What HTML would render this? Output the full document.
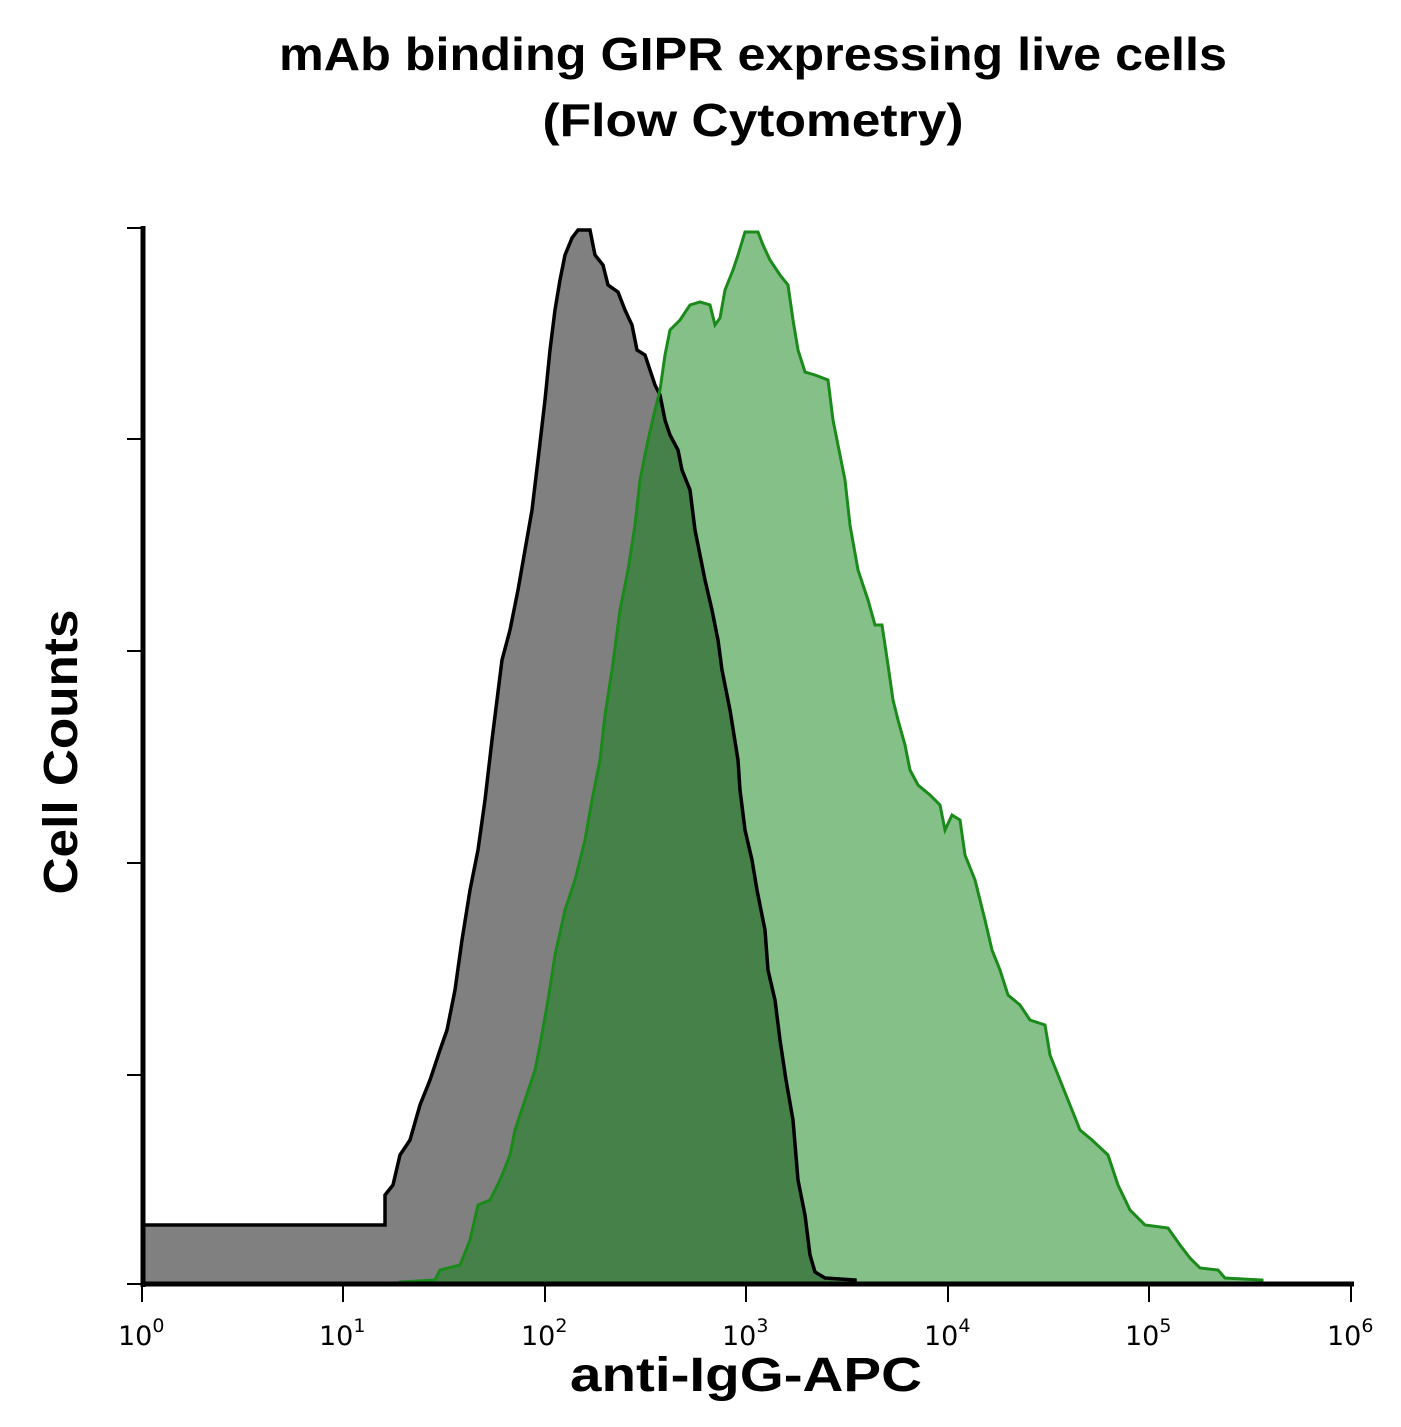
<!DOCTYPE html>
<html><head><style>body{margin:0;background:#fff}</style></head><body>
<svg width="1401" height="1422" xmlns="http://www.w3.org/2000/svg">
<g font-family="Liberation Sans, sans-serif" font-weight="bold" text-anchor="middle" fill="#000">
<text x="753" y="70" font-size="46" textLength="948" lengthAdjust="spacingAndGlyphs">mAb binding GIPR expressing live cells</text>
<text x="753" y="136" font-size="46" textLength="421" lengthAdjust="spacingAndGlyphs">(Flow Cytometry)</text>
<text x="746" y="1391" font-size="48" textLength="352" lengthAdjust="spacingAndGlyphs">anti-IgG-APC</text>
<text transform="translate(77,752) rotate(-90)" font-size="48" textLength="285" lengthAdjust="spacingAndGlyphs">Cell Counts</text>
</g>
<polygon fill="#808080" points="143,1284 143,1225 385,1225 385,1195 393,1185 400,1155 410,1140 420,1105 430,1080 440,1050 447,1030 455,990 462,940 470,890 478,850 485,800 492,740 497,700 502,660 510,630 518,590 525,550 532,510 538,460 545,400 550,350 555,310 560,280 565,255 572,238 578,230 590,230 595,255 603,265 608,285 618,292 625,310 632,325 637,350 645,355 655,385 660,395 665,420 670,435 678,450 682,470 690,490 695,530 705,580 712,610 718,640 722,670 730,710 738,760 740,790 745,830 752,860 757,890 765,930 768,970 775,1000 780,1040 786,1080 793,1120 798,1180 805,1215 810,1255 815,1272 825,1278 855,1280 855,1284"/>
<polygon fill="rgba(9,129,15,0.5)" points="400,1284 400,1282 435,1280 440,1270 460,1265 470,1240 478,1205 490,1200 500,1180 510,1155 515,1130 525,1100 535,1070 540,1045 548,1000 555,955 565,910 575,880 585,840 592,800 600,760 605,715 612,670 620,610 628,570 635,525 640,480 648,440 655,410 660,390 665,355 670,330 680,320 690,305 700,302 710,305 715,325 720,318 725,290 733,270 738,255 745,232 758,232 763,245 770,260 780,275 788,285 793,320 798,350 805,372 815,375 828,380 833,420 838,445 845,480 850,525 858,570 868,600 875,625 882,625 888,665 893,700 898,720 905,745 910,770 918,785 930,795 940,805 945,830 952,815 960,820 965,855 975,880 985,920 992,950 1000,970 1008,995 1020,1005 1030,1020 1045,1025 1050,1055 1060,1080 1072,1110 1080,1130 1092,1140 1108,1155 1118,1185 1130,1210 1145,1225 1168,1228 1180,1245 1190,1258 1200,1268 1218,1270 1225,1278 1262,1280 1262,1284"/>
<polygon fill="none" stroke="#000" stroke-width="3.5" points="143,1284 143,1225 385,1225 385,1195 393,1185 400,1155 410,1140 420,1105 430,1080 440,1050 447,1030 455,990 462,940 470,890 478,850 485,800 492,740 497,700 502,660 510,630 518,590 525,550 532,510 538,460 545,400 550,350 555,310 560,280 565,255 572,238 578,230 590,230 595,255 603,265 608,285 618,292 625,310 632,325 637,350 645,355 655,385 660,395 665,420 670,435 678,450 682,470 690,490 695,530 705,580 712,610 718,640 722,670 730,710 738,760 740,790 745,830 752,860 757,890 765,930 768,970 775,1000 780,1040 786,1080 793,1120 798,1180 805,1215 810,1255 815,1272 825,1278 855,1280 855,1284"/>
<polygon fill="none" stroke="#1a8a1a" stroke-width="3" points="400,1284 400,1282 435,1280 440,1270 460,1265 470,1240 478,1205 490,1200 500,1180 510,1155 515,1130 525,1100 535,1070 540,1045 548,1000 555,955 565,910 575,880 585,840 592,800 600,760 605,715 612,670 620,610 628,570 635,525 640,480 648,440 655,410 660,390 665,355 670,330 680,320 690,305 700,302 710,305 715,325 720,318 725,290 733,270 738,255 745,232 758,232 763,245 770,260 780,275 788,285 793,320 798,350 805,372 815,375 828,380 833,420 838,445 845,480 850,525 858,570 868,600 875,625 882,625 888,665 893,700 898,720 905,745 910,770 918,785 930,795 940,805 945,830 952,815 960,820 965,855 975,880 985,920 992,950 1000,970 1008,995 1020,1005 1030,1020 1045,1025 1050,1055 1060,1080 1072,1110 1080,1130 1092,1140 1108,1155 1118,1185 1130,1210 1145,1225 1168,1228 1180,1245 1190,1258 1200,1268 1218,1270 1225,1278 1262,1280 1262,1284"/>
<g stroke="#000">
<line x1="143" y1="226" x2="143" y2="1287" stroke-width="5"/>
<line x1="141" y1="1284" x2="1354" y2="1284" stroke-width="5"/>
<g stroke-width="2">
<line x1="127" y1="228" x2="143" y2="228"/><line x1="127" y1="439" x2="143" y2="439"/><line x1="127" y1="651" x2="143" y2="651"/><line x1="127" y1="863" x2="143" y2="863"/><line x1="127" y1="1075" x2="143" y2="1075"/><line x1="127" y1="1284" x2="143" y2="1284"/>
<line x1="142" y1="1284" x2="142" y2="1302"/><line x1="343" y1="1284" x2="343" y2="1302"/><line x1="545" y1="1284" x2="545" y2="1302"/><line x1="746" y1="1284" x2="746" y2="1302"/><line x1="948" y1="1284" x2="948" y2="1302"/><line x1="1149" y1="1284" x2="1149" y2="1302"/><line x1="1351" y1="1284" x2="1351" y2="1302"/>
</g></g>
<g font-family="DejaVu Sans, sans-serif" font-size="27" fill="#000">
<text x="118" y="1345">10<tspan font-size="19" dy="-13">0</tspan></text>
<text x="319" y="1345">10<tspan font-size="19" dy="-13">1</tspan></text>
<text x="521" y="1345">10<tspan font-size="19" dy="-13">2</tspan></text>
<text x="722" y="1345">10<tspan font-size="19" dy="-13">3</tspan></text>
<text x="924" y="1345">10<tspan font-size="19" dy="-13">4</tspan></text>
<text x="1125" y="1345">10<tspan font-size="19" dy="-13">5</tspan></text>
<text x="1327" y="1345">10<tspan font-size="19" dy="-13">6</tspan></text>
</g>
</svg>
</body></html>
